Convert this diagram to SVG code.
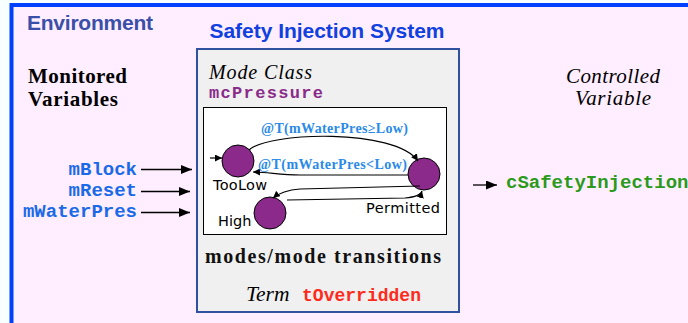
<svg xmlns="http://www.w3.org/2000/svg" width="688" height="323" viewBox="0 0 688 323">
<style>
.mono{font-family:"Liberation Mono","Courier New",monospace;font-weight:bold}
.serif{font-family:"Liberation Serif","Times New Roman",serif}
.sans{font-family:"Liberation Sans",Arial,sans-serif}
.in{fill:#1a6ae8;font-size:19px}
.state{fill:#8b2a8b;stroke:#000;stroke-width:1}
.slabel{font-family:"DejaVu Sans",sans-serif;font-size:14.5px;fill:#000}
.tr{fill:none;stroke:#000;stroke-width:1.2}
.io{stroke:#000;stroke-width:1.3}
.ev{fill:#2a8ae8;font-weight:bold;font-size:14px}
</style>
<defs>
<marker id="ah" viewBox="0 0 10 10" refX="10" refY="5" markerWidth="7" markerHeight="7" markerUnits="userSpaceOnUse" orient="auto"><path d="M0,0 L10,5 L0,10 Z" fill="#000"/></marker>
<marker id="big" viewBox="0 0 10 10" refX="10" refY="5" markerWidth="11" markerHeight="9" markerUnits="userSpaceOnUse" orient="auto" preserveAspectRatio="none"><path d="M0,0 L10,5 L0,10 Z" fill="#000"/></marker>
</defs>
<rect x="0" y="0" width="688" height="323" fill="#f8ffff"/>
<g id="environment">
<rect x="11.5" y="5" width="690" height="330" fill="#ffeeff" stroke="#0040ff" stroke-width="4"/>
<text x="27" y="30" class="sans" font-weight="bold" font-size="21" fill="#3a4fa8" textLength="126">Environment</text>
<text x="28" y="83" class="serif" font-weight="bold" font-size="21" fill="#000" textLength="99">Monitored</text>
<text x="28" y="106" class="serif" font-weight="bold" font-size="21" fill="#000" textLength="90">Variables</text>
<text x="613" y="83" class="serif" font-style="italic" font-size="21" fill="#000" text-anchor="middle" textLength="94">Controlled</text>
<text x="613" y="105" class="serif" font-style="italic" font-size="21" fill="#000" text-anchor="middle" textLength="76">Variable</text>
</g>
<g id="inputs">
<text x="137" y="175" class="mono in" text-anchor="end">mBlock</text>
<text x="137" y="196" class="mono in" text-anchor="end">mReset</text>
<text x="137" y="217" class="mono in" text-anchor="end">mWaterPres</text>
</g>
<g id="output">
<text x="506" y="188" class="mono" font-size="19" fill="#2a9a1a">cSafetyInjection</text>
</g>
<g id="system">
<text x="327" y="38" class="sans" font-weight="bold" font-size="21" fill="#1040e0" text-anchor="middle" textLength="235">Safety Injection System</text>
<rect x="197" y="49" width="262" height="263" fill="#f0f0f0" stroke="#3050a0" stroke-width="2"/>
<text x="209" y="79" class="serif" font-style="italic" font-size="20" fill="#000" textLength="103">Mode Class</text>
<text x="209" y="98" class="mono" font-size="17" fill="#8a2a8a" textLength="114">mcPressure</text>
<rect x="203.5" y="107.5" width="243" height="127" fill="#fff" stroke="#000" stroke-width="1"/>
<text x="205" y="263" class="serif" font-weight="bold" font-size="20" fill="#111" textLength="236">modes/mode transitions</text>
<text x="246" y="301" class="serif" font-style="italic" font-size="21.5" fill="#000">Term</text>
<text x="302" y="301" class="mono" font-size="18" fill="#ff2a1a" textLength="119">tOverridden</text>
</g>
<g id="TooLow">
<circle cx="238" cy="161" r="16" class="state"/>
<text x="213" y="190" class="slabel" textLength="54">TooLow</text>
</g>
<g id="Permitted">
<circle cx="424" cy="174" r="16" class="state"/>
<text x="366" y="213" class="slabel" textLength="74">Permitted</text>
</g>
<g id="High">
<circle cx="270" cy="213" r="16" class="state"/>
<text x="218" y="226" class="slabel">High</text>
</g>
<g id="connectors">
<line x1="141" y1="169.5" x2="192" y2="169.5" class="io" marker-end="url(#big)"/>
<line x1="141" y1="191.5" x2="190" y2="191.5" class="io" marker-end="url(#big)"/>
<line x1="141" y1="212.5" x2="190" y2="212.5" class="io" marker-end="url(#big)"/>
<line x1="473" y1="185" x2="497" y2="185" class="io" marker-end="url(#big)"/>
<line x1="210" y1="158" x2="222" y2="158" class="tr" marker-end="url(#ah)"/>
<path d="M249,150 C268,132 395,128 418,161" class="tr" marker-end="url(#ah)"/>
<path d="M408,175 L300,175 C280,175 268,172 253,172" class="tr" marker-end="url(#ah)"/>
<path d="M420,186 L300,189 C287,190 279,193 273,198" class="tr" marker-end="url(#ah)"/>
<path d="M287,200 L405,198 C416,197 421,195 422,191" class="tr" marker-end="url(#ah)"/>
<text x="261" y="133" class="serif ev" textLength="147">@T(mWaterPres≥Low)</text>
<text x="258" y="169" class="serif ev" textLength="149">@T(mWaterPres&lt;Low)</text>
</g>
</svg>
